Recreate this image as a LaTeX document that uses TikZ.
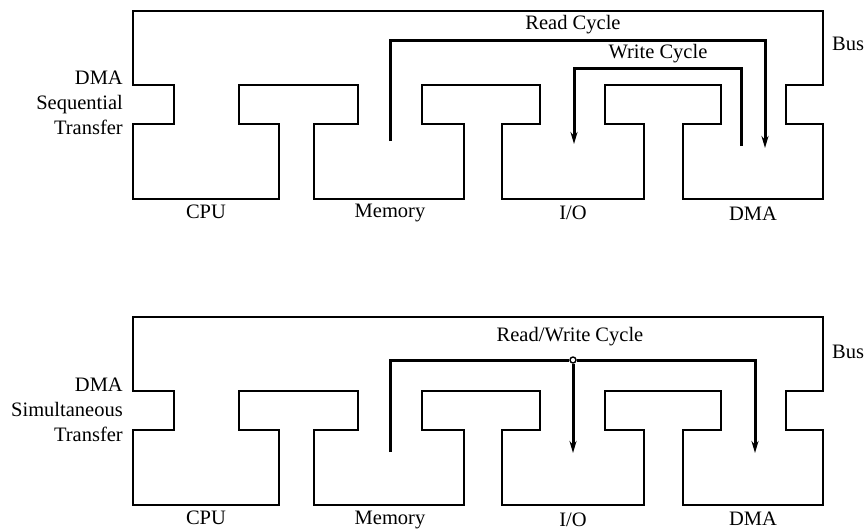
\documentclass[tikz,border=0pt]{standalone}
\usepackage{fontspec}
\setmainfont{Liberation Serif}
\usetikzlibrary{arrows.meta}
\tikzset{
  outline/.style={line width=1.8pt, line join=miter},
  lbl/.style={font=\fontsize{20.5}{25}\selectfont, inner sep=0pt},
  sidelbl/.style={lbl, align=right, anchor=east},
  cyc/.style={line width=3pt, line join=miter},
  cycarrow/.style={cyc, -{Stealth[length=12pt,width=7pt]}},
  junction/.style={circle, draw, line width=1.4pt, fill=white, minimum size=6pt, inner sep=0pt},
}
\newcommand{\busshape}{%
  \draw[outline] (133,11) -- (133,85) -- (174,85) -- (174,124) -- (133,124) -- (133,199)
    -- (279,199) -- (279,124) -- (239,124) -- (239,85) -- (358,85) -- (358,124)
    -- (314,124) -- (314,199) -- (464,199) -- (464,124) -- (422,124) -- (422,85)
    -- (540,85) -- (540,124) -- (502,124) -- (502,199) -- (644,199) -- (644,124)
    -- (605,124) -- (605,85) -- (721,85) -- (721,124) -- (683,124) -- (683,199)
    -- (823,199) -- (823,124) -- (786,124) -- (786,85) -- (823,85) -- (823,11) -- cycle;
}
\begin{document}
\begin{tikzpicture}[x=1pt, y=-1pt]
\useasboundingbox (0,0) rectangle (865,531);

% ---------- Top: sequential transfer ----------
\busshape
\node[lbl] (cpu1) at (206,212) {CPU};
\node[lbl] (mem1) at (390,213) {Memory};
\node[lbl] (io1) at (573,213) {I/O};
\node[lbl] (dma1) at (753,214) {DMA};
\node[lbl, anchor=west] (bus1) at (832,44) {Bus};
\node[sidelbl] (seq) at (123,103) {DMA\\Sequential\\Transfer};

\coordinate (rdStart) at (390,141);
\coordinate (rdTop) at (577,40);
\coordinate (rdEnd) at (765,148);
\node[lbl] (rdlbl) at (573,25) {Read Cycle};
\draw[cycarrow] (rdStart) |- (rdTop) -| (rdEnd);

\coordinate (wrStart) at (741,146);
\coordinate (wrTop) at (658,68);
\coordinate (wrEnd) at (574,144);
\node[lbl] (wrlbl) at (658,54) {Write Cycle};
\draw[cycarrow] (wrStart) |- (wrTop) -| (wrEnd);

% ---------- Bottom: simultaneous transfer ----------
\begin{scope}[shift={(0,306)}]
\busshape
\node[lbl] (cpu2) at (206,212) {CPU};
\node[lbl] (mem2) at (390,214) {Memory};
\node[lbl] (io2) at (573,214) {I/O};
\node[lbl] (dma2) at (753,213) {DMA};
\node[lbl, anchor=west] (bus2) at (832,46) {Bus};
\node[sidelbl] (sim) at (123,104) {DMA\\Simultaneous\\Transfer};

\coordinate (rwStart) at (390,146);
\node[junction] (rwJ) at (573,54) {};
\coordinate (rwEnd) at (755,147);
\coordinate (rwIO) at (573,147);
\node[lbl] (rwlbl) at (570,31) {Read/Write Cycle};
\draw[cyc] (rwStart) |- (rwJ.west);
\draw[cycarrow] (rwJ.east) -| (rwEnd);
\draw[cycarrow] (rwJ.south) -- (rwIO);
\end{scope}
\end{tikzpicture}
\end{document}
